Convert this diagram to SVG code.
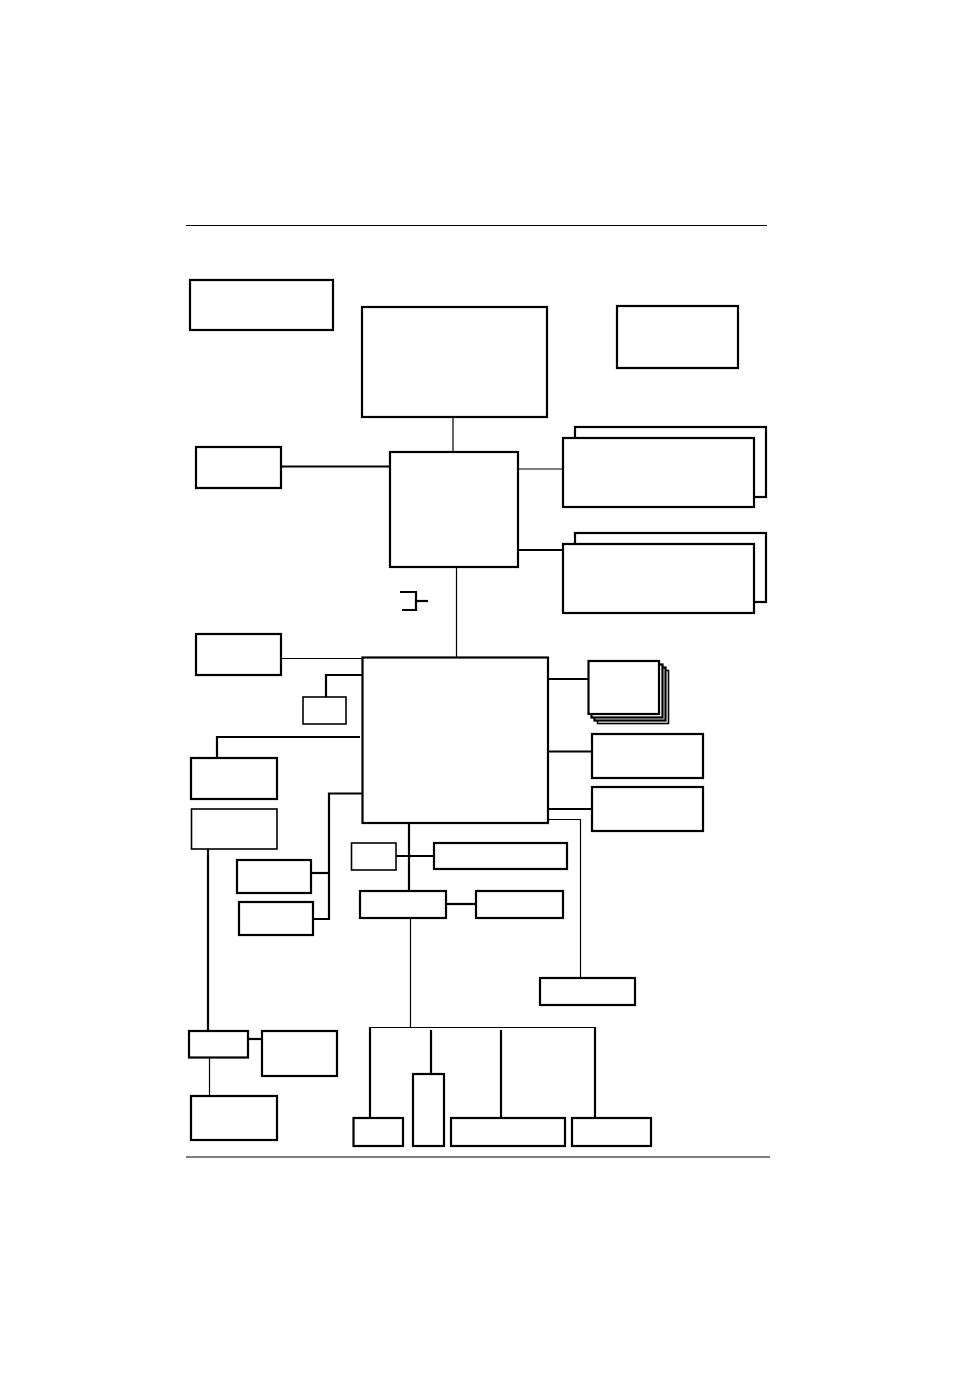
<svg xmlns="http://www.w3.org/2000/svg" width="954" height="1382" viewBox="0 0 954 1382">
<style>
.b{fill:#fff;stroke:#000;stroke-width:2.2}
.bt{fill:#fff;stroke:#000;stroke-width:1.6}
.c{fill:none;stroke:#000;stroke-width:2.2}
.t{fill:none;stroke:#000;stroke-width:1.2}
</style>
<rect width="954" height="1382" fill="#fff"/>
<line class="t" x1="186" y1="225.5" x2="767" y2="225.5"/>
<line class="t" x1="186" y1="1157" x2="770" y2="1157"/>
<g id="connectors">
<line class="t" x1="453" y1="417" x2="453" y2="452"/>
<line class="c" x1="281" y1="466.5" x2="392" y2="466.5"/>
<line class="t" x1="518" y1="469" x2="563" y2="469"/>
<line class="c" x1="517" y1="550" x2="563" y2="550"/>
<line class="t" x1="456.5" y1="567" x2="456.5" y2="657"/>
<polyline class="c" points="400,592 416,592 416,610 402,610"/>
<line class="c" x1="416" y1="601" x2="428" y2="601"/>
<line class="t" x1="281" y1="658.5" x2="363" y2="658.5"/>
<polyline class="c" points="326,697 326,675 363,675"/>
<polyline class="c" points="217,758 217,737 360,737"/>
<polyline class="c" points="363,793.5 329,793.5 329,919 313,919"/>
<line class="c" x1="311" y1="873" x2="329" y2="873"/>
<line class="c" x1="208" y1="849" x2="208" y2="1031"/>
<line class="c" x1="248" y1="1039" x2="262" y2="1039"/>
<line class="t" x1="209.5" y1="1058" x2="209.5" y2="1096"/>
<line class="c" x1="548" y1="679" x2="588" y2="679"/>
<line class="c" x1="548" y1="751.5" x2="592" y2="751.5"/>
<line class="c" x1="548" y1="809" x2="592" y2="809"/>
<polyline class="t" points="548,819.5 580.5,819.5 580.5,978"/>
<line class="c" x1="409" y1="823" x2="409" y2="891"/>
<line class="c" x1="396" y1="856" x2="434" y2="856"/>
<line class="c" x1="445" y1="904" x2="476" y2="904"/>
<line class="t" x1="410.5" y1="918" x2="410.5" y2="1027"/>
<line class="t" x1="369" y1="1027.5" x2="596" y2="1027.5"/>
<line class="c" x1="370" y1="1027" x2="370" y2="1118"/>
<line class="c" x1="431" y1="1030" x2="431" y2="1074"/>
<line class="c" x1="501" y1="1030" x2="501" y2="1119"/>
<line class="c" x1="595" y1="1027" x2="595" y2="1118"/>
</g>
<g id="n1"><rect class="b" x="190" y="280" width="143" height="50"/></g>
<g id="n2"><rect class="b" x="362" y="307" width="185" height="110"/></g>
<g id="n3"><rect class="b" x="617" y="306" width="121" height="62"/></g>
<g id="n4"><rect class="b" x="196" y="447" width="85" height="41"/></g>
<g id="n5"><rect class="b" x="390" y="452" width="128" height="115"/></g>
<g id="n6"><rect class="b" x="575" y="427" width="191" height="70"/><rect class="b" x="563" y="438" width="191" height="69"/></g>
<g id="n7"><rect class="b" x="575" y="533" width="191" height="69"/><rect class="b" x="563" y="544" width="191" height="69"/></g>
<g id="n8"><rect class="b" x="196" y="634" width="85" height="41"/></g>
<g id="n9"><rect class="b" x="362.5" y="657.5" width="185.5" height="165.5"/></g>
<g id="n10"><rect class="bt" x="303" y="697" width="43" height="27"/></g>
<g id="n11"><rect class="b" x="191" y="758" width="86" height="41"/></g>
<g id="n12"><rect class="bt" x="191.5" y="809" width="85.5" height="40"/></g>
<g id="n13"><rect class="b" x="237" y="860" width="74" height="33"/></g>
<g id="n14"><rect class="b" x="239" y="902" width="74" height="33"/></g>
<g id="n15"><rect class="b" x="189" y="1031" width="59" height="26.5"/></g>
<g id="n16"><rect class="b" x="262" y="1031" width="75" height="45"/></g>
<g id="n17"><rect class="b" x="191" y="1096" width="86" height="44"/></g>
<g id="n18">
<rect class="bt" x="597.5" y="670.5" width="71" height="53"/>
<rect class="b" x="594.5" y="667.5" width="71" height="53"/>
<rect class="b" x="591.5" y="664.5" width="71" height="53"/>
<rect class="b" x="588.5" y="661" width="70.5" height="53"/>
</g>
<g id="n19"><rect class="b" x="592" y="734" width="111" height="44"/></g>
<g id="n20"><rect class="b" x="592" y="787" width="111" height="44"/></g>
<g id="n21"><rect class="bt" x="351.5" y="843" width="44.5" height="27"/></g>
<g id="n22"><rect class="b" x="434" y="843" width="133" height="26"/></g>
<g id="n23"><rect class="b" x="360" y="891" width="86" height="27"/></g>
<g id="n24"><rect class="b" x="476" y="891" width="87" height="27"/></g>
<g id="n25"><rect class="b" x="540" y="978" width="95" height="27"/></g>
<g id="n26"><rect class="b" x="353.5" y="1118" width="49.5" height="28"/></g>
<g id="n27"><rect class="b" x="413" y="1074" width="31" height="72"/></g>
<g id="n28"><rect class="b" x="451" y="1118" width="114" height="28"/></g>
<g id="n29"><rect class="b" x="572" y="1118" width="79" height="28"/></g>
</svg>
